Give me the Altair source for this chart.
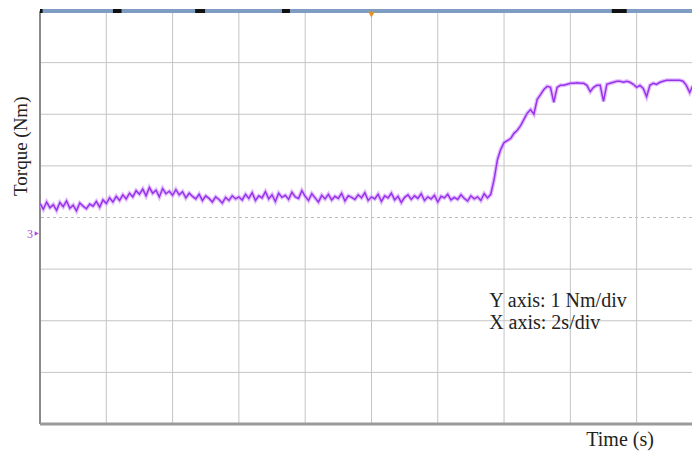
import altair as alt
import pandas as pd

# Torque trace (Nm, relative to channel-3 reference), sampled every 0.1 s from t = 0
torque = [
    # 0.0 - 1.5 s
    0.27, 0.16, 0.30, 0.19, 0.25, 0.14, 0.29, 0.21, 0.32, 0.18, 0.24, 0.13, 0.28, 0.22, 0.17, 0.26,
    # 1.6 - 2.9 s
    0.22, 0.31, 0.20, 0.34, 0.27, 0.38, 0.30, 0.41, 0.33, 0.44, 0.36, 0.47, 0.40, 0.52,
    # 3.0 - 4.1 s
    0.45, 0.55, 0.42, 0.58, 0.47, 0.53, 0.40, 0.56, 0.46, 0.51, 0.43, 0.54,
    # 4.2 - 5.9 s
    0.44, 0.50, 0.38, 0.47, 0.41, 0.36, 0.45, 0.33, 0.42, 0.37, 0.30, 0.40, 0.35, 0.28, 0.39, 0.33, 0.42, 0.36,
    # 6.0 - 13.5 s
    0.40, 0.34, 0.45, 0.37, 0.48, 0.33, 0.42, 0.38, 0.50, 0.36,
    0.44, 0.31, 0.47, 0.39, 0.43, 0.35, 0.49, 0.40, 0.37, 0.52,
    0.41, 0.33, 0.46, 0.38, 0.30, 0.43, 0.36, 0.45, 0.34, 0.41,
    0.37, 0.47, 0.32, 0.42, 0.39, 0.35, 0.44, 0.38, 0.48, 0.33,
    0.40, 0.36, 0.45, 0.31, 0.42, 0.38, 0.47, 0.34, 0.41, 0.29,
    0.39, 0.44, 0.35, 0.42, 0.37, 0.46, 0.33, 0.40, 0.36, 0.43,
    0.30, 0.41, 0.38, 0.45, 0.34, 0.39, 0.35, 0.44, 0.37, 0.32,
    0.42, 0.36, 0.40, 0.33, 0.46, 0.38,
    # 13.6 s
    0.45,
    # 13.7 - 19.9 s (rise and plateau)
    0.74, 1.12, 1.32, 1.45, 1.49, 1.53, 1.63, 1.69, 1.78, 1.90,
    2.02, 2.09, 2.00, 2.29, 2.38, 2.48, 2.54, 2.52, 2.23, 2.52,
    2.56, 2.56, 2.58, 2.60, 2.60, 2.61, 2.60, 2.60, 2.56, 2.44,
    2.52, 2.56, 2.56, 2.25, 2.58, 2.60, 2.62, 2.64, 2.64, 2.62,
    2.64, 2.62, 2.58, 2.52, 2.56, 2.50, 2.34, 2.56, 2.60, 2.58,
    2.62, 2.64, 2.66, 2.66, 2.66, 2.66, 2.66, 2.64, 2.56, 2.42,
    2.56, 2.60, 2.60,
]
sample_period = 0.1
time_s = [round(i * sample_period, 1) for i in range(len(torque))]

x_grid = [2, 4, 6, 8, 10, 12, 14, 16, 18]
y_grid = [-3, -2, -1, 1, 2, 3]
top_marks_start = [0.0, 2.2, 4.68, 7.3, 17.25]
top_marks_end = [0.08, 2.46, 4.98, 7.54, 17.7]

annotations = ["Y axis: 1 Nm/div", "X axis: 2s/div"]
ann_t = [13.55, 13.55]
ann_y = [-1.61, -2.04]

SERIF = "Liberation Serif"
T_MAX = 19.67
xs = alt.Scale(domain=[0, T_MAX], nice=False, zero=False)
ys = alt.Scale(domain=[-4, 4], nice=False, zero=False)

trace_df = pd.DataFrame({"t": time_s, "torque": torque})
trace_df = trace_df[trace_df["t"] <= T_MAX + 0.05]
xg_df = pd.DataFrame({"t": x_grid})
yg_df = pd.DataFrame({"v": y_grid})
tm_df = pd.DataFrame({"a": top_marks_start, "b": top_marks_end, "y": [4] * len(top_marks_start)})
ann_df = pd.DataFrame({"t": ann_t, "y": ann_y, "txt": annotations})

vgrid = alt.Chart(xg_df).mark_rule(color="#c4c4c4", strokeWidth=1).encode(
    x=alt.X("t:Q", scale=xs, axis=None)
)
hgrid = alt.Chart(yg_df).mark_rule(color="#c4c4c4", strokeWidth=1).encode(
    y=alt.Y("v:Q", scale=ys, axis=None)
)
center_h = alt.Chart(pd.DataFrame({"v": [0]})).mark_rule(
    color="#bdbdbd", strokeWidth=1, strokeDash=[3, 3]
).encode(y=alt.Y("v:Q", scale=ys, axis=None))

glow = alt.Chart(trace_df).mark_line(color="#d9a4ff", strokeWidth=4, opacity=0.75, clip=True).encode(
    x=alt.X("t:Q", scale=xs, axis=None),
    y=alt.Y("torque:Q", scale=ys, axis=None),
)
line = alt.Chart(trace_df).mark_line(color="#9634ec", strokeWidth=1.5, clip=True).encode(
    x=alt.X("t:Q", scale=xs, axis=None),
    y=alt.Y("torque:Q", scale=ys, axis=None),
)

left_axis = alt.Chart(pd.DataFrame({"t": [0]})).mark_rule(color="#8a8a8a", strokeWidth=2).encode(
    x=alt.X("t:Q", scale=xs, axis=None)
)
bottom_axis = alt.Chart(pd.DataFrame({"v": [-4]})).mark_rule(color="#9a9a9a", strokeWidth=3).encode(
    y=alt.Y("v:Q", scale=ys, axis=None)
)
top_bar = alt.Chart(pd.DataFrame({"v": [4]})).mark_rule(color="#7f9dc2", strokeWidth=4).encode(
    y=alt.Y("v:Q", scale=ys, axis=None)
)
top_marks = alt.Chart(tm_df).mark_rule(color="#111111", strokeWidth=4).encode(
    x=alt.X("a:Q", scale=xs, axis=None),
    x2="b:Q",
    y=alt.Y("y:Q", scale=ys, axis=None),
)
trigger = alt.Chart(pd.DataFrame({"t": [10], "y": [3.93]})).mark_point(
    shape="triangle-down", filled=True, color="#e8902a", size=45, opacity=1
).encode(x=alt.X("t:Q", scale=xs, axis=None), y=alt.Y("y:Q", scale=ys, axis=None))

ref_marker = alt.Chart(pd.DataFrame({"t": [-0.3], "y": [-0.31], "txt": ["3"]})).mark_text(
    font=SERIF, fontSize=12, color="#b040e0", align="center", baseline="middle"
).encode(x=alt.X("t:Q", scale=xs, axis=None), y=alt.Y("y:Q", scale=ys, axis=None), text="txt:N")
ref_arrow = alt.Chart(pd.DataFrame({"t": [-0.1], "y": [-0.31]})).mark_point(
    shape="triangle-right", filled=True, color="#b040e0", size=22, opacity=1
).encode(x=alt.X("t:Q", scale=xs, axis=None), y=alt.Y("y:Q", scale=ys, axis=None))

ann = alt.Chart(ann_df).mark_text(
    font=SERIF, fontSize=20, color="#222222", align="left", baseline="middle"
).encode(x=alt.X("t:Q", scale=xs, axis=None), y=alt.Y("y:Q", scale=ys, axis=None), text="txt:N")

ytitle = alt.Chart(pd.DataFrame({"t": [-0.58], "y": [1.38], "txt": ["Torque (Nm)"]})).mark_text(
    font=SERIF, fontSize=19, color="#222222", align="center", baseline="middle", angle=270
).encode(x=alt.X("t:Q", scale=xs, axis=None), y=alt.Y("y:Q", scale=ys, axis=None), text="txt:N")

xtitle = alt.Chart(pd.DataFrame({"t": [17.5], "y": [-4.43], "txt": ["Time (s)"]})).mark_text(
    font=SERIF, fontSize=20, color="#222222", align="center", baseline="alphabetic"
).encode(x=alt.X("t:Q", scale=xs, axis=None), y=alt.Y("y:Q", scale=ys, axis=None), text="txt:N")

chart = alt.layer(
    vgrid, hgrid, center_h, left_axis, bottom_axis, glow, line,
    top_bar, top_marks, trigger, ref_marker, ref_arrow, ann, ytitle, xtitle,
).properties(
    width=652,
    height=413,
    autosize=alt.AutoSizeParams(type="none"),
    padding={"left": 32, "top": 3, "right": 0, "bottom": 27},
).configure_view(stroke=None)

chart.save("out.html", embed_options={"renderer": "svg", "actions": False})
